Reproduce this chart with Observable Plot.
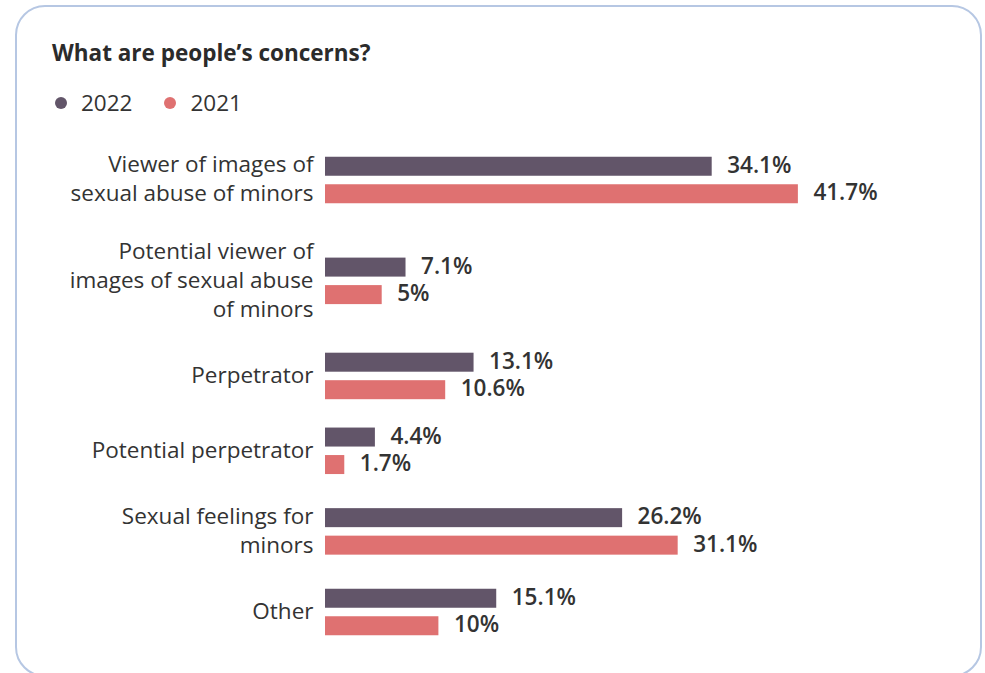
<!DOCTYPE html>
<html>
<head>
<meta charset="utf-8">
<script src="https://cdn.jsdelivr.net/npm/d3@7"></script>
<script src="https://cdn.jsdelivr.net/npm/@observablehq/plot@0.6"></script>
<style>
  html, body { margin: 0; padding: 0; background: #fff; }
  body { width: 985px; height: 673px; overflow: hidden; position: relative; font-family: "Open Sans", sans-serif; color: #333; }
  .card { position: absolute; left: 15px; top: 5px; width: 967px; height: 672px; border: 2.5px solid #b6c7e3; border-radius: 30px; box-sizing: border-box; }
  .title { position: absolute; left: 52px; top: 39px; font-size: 22.5px; line-height: 28px; font-weight: 700; color: #2b2b2b; }
  .legend { position: absolute; left: 55px; top: 89px; font-size: 22.5px; line-height: 28px; display: flex; align-items: center; color: #333; }
  .legend .item { display: flex; align-items: center; margin-right: 32px; }
  .legend .dot { width: 12px; height: 12px; border-radius: 50%; margin-right: 14px; }
  #chart { position: absolute; left: 0; top: 130px; }
</style>
</head>
<body>
<div class="card"></div>
<div class="title">What are people’s concerns?</div>
<div class="legend" id="legend"></div>
<div id="chart"></div>
<script>
// ---- data ----
const categories = ["Viewer of images of sexual abuse of minors", "Potential viewer of images of sexual abuse of minors", "Perpetrator", "Potential perpetrator", "Sexual feelings for minors", "Other"];
const categoryLabels = ["Viewer of images of\nsexual abuse of minors", "Potential viewer of\nimages of sexual abuse\nof minors", "Perpetrator", "Potential perpetrator", "Sexual feelings for\nminors", "Other"];
const years = ["2022", "2021"];
const values2022 = [34.1, 7.1, 13.1, 4.4, 26.2, 15.1];
const values2021 = [41.7, 5, 10.6, 1.7, 31.1, 10];
const colors = ["#625569", "#df7171"];

// ---- layout (style) ----
const barH = 19, barStep = 27.5, lineH = 29, groupGap = 28.35, firstCenter = 50;
const blockH = barStep + barH;

// group centers derived from label line counts
const centers = [];
let prevHalf = 0, c = firstCenter;
categoryLabels.forEach((lab, i) => {
  const lines = lab.split("\n").length;
  const half = Math.max(blockH, lines * lineH) / 2;
  if (i > 0) c += prevHalf + groupGap + half;
  centers.push(c);
  prevHalf = half;
});

const seriesValues = [values2022, values2021];
const bars = [];
categories.forEach((cat, i) => {
  years.forEach((yr, j) => {
    const y1 = centers[i] - blockH / 2 + j * barStep;
    bars.push({category: cat, year: yr, value: seriesValues[j][i], y1, y2: y1 + barH});
  });
});
const labelRows = categories.map((cat, i) => ({category: cat, label: categoryLabels[i], yc: centers[i]}));

// legend
const legend = document.getElementById("legend");
years.forEach((yr, j) => {
  const it = document.createElement("div");
  it.className = "item";
  it.innerHTML = `<span class="dot" style="background:${colors[j]}"></span><span>${yr}</span>`;
  legend.appendChild(it);
});

const H = 530;
const chart = Plot.plot({
  width: 985,
  height: H,
  marginTop: 0, marginBottom: 0, marginLeft: 325, marginRight: 93,
  style: {fontFamily: "Open Sans, sans-serif", background: "transparent"},
  x: {domain: [0, 50], axis: null},
  y: {domain: [0, H], range: [0, H], axis: null},
  color: {domain: years, range: colors},
  marks: [
    Plot.rect(bars, {x1: d => 0, x2: "value", y1: "y1", y2: "y2", fill: "year"}),
    Plot.text(bars, {x: "value", y: d => (d.y1 + d.y2) / 2, text: d => `${d.value}%`, textAnchor: "start", dx: 15, dy: -1, fontSize: 22.5, fontWeight: 600, fill: "#333"}),
    Plot.text(labelRows, {x: d => 0, y: "yc", text: "label", textAnchor: "end", dx: -12, dy: -3, fontSize: 22.5, lineHeight: 29 / 22.5, fill: "#333"})
  ]
});
document.getElementById("chart").appendChild(chart);
</script>
</body>
</html>
